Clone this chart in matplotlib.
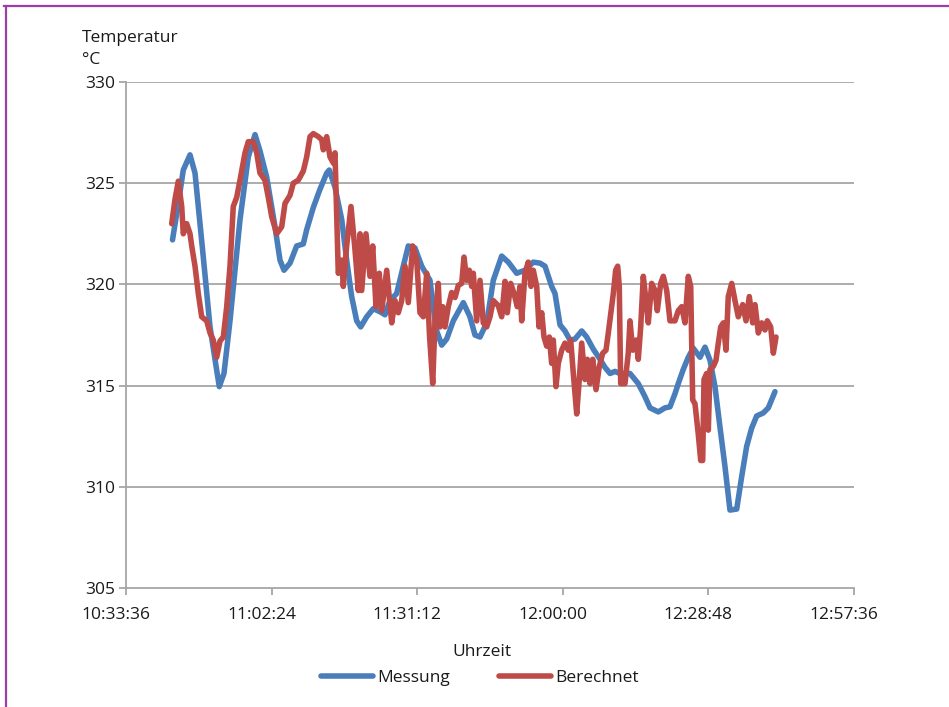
import matplotlib
matplotlib.use("Agg")
import matplotlib.pyplot as plt
from matplotlib.lines import Line2D
from matplotlib.ticker import FixedLocator, FuncFormatter
from matplotlib.transforms import ScaledTranslation

plt.rcParams['font.family'] = ['Open Sans', 'DejaVu Sans']

# Time axis in minutes after 10:00:00
messung_min = [42.8, 43.95, 44.93, 46.26, 47.25, 48.83, 50.22, 51.2, 52.05, 52.98,
               54.17, 56.15, 57.79, 59.12, 60.1, 61.43, 63.07, 64.06, 64.85, 66.04,
               67.36, 68.67, 69.34, 70.65, 71.97, 73.3, 73.81, 74.94, 76.27, 77.25,
               78.24, 79.23, 80.02, 81.21, 82.52, 83.84, 84.83, 85.82, 87.14, 88.45,
               89.44, 90.76, 92.09, 93.73, 94.92, 96.05, 97.03, 98.34, 100.32, 101.64,
               102.63, 103.62, 104.95, 106.25, 107.91, 109.22, 110.88, 112.52, 114.16, 115.49,
               116.48, 117.8, 118.46, 119.45, 120.43, 121.42, 122.41, 123.74, 124.73, 126.03,
               127.36, 128.35, 129.34, 130.32, 131.31, 133.29, 134.93, 136.26, 137.25, 138.89,
               140.21, 141.2, 142.19, 142.84, 143.83, 144.82, 145.81, 147.14, 148.13, 149.12,
               150.1, 151.09, 152.08, 153.07, 154.4, 155.38, 156.37, 157.36, 158.35, 159.66,
               160.65, 161.97]
messung_val = [322.2, 324.0, 325.65, 326.4, 325.5, 321.5, 317.9, 316.3, 314.95, 315.6,
               318.2, 323.2, 326.3, 327.4, 326.6, 325.3, 322.85, 321.2, 320.7, 321.05,
               321.9, 322.0, 322.7, 323.8, 324.7, 325.5, 325.65, 324.8, 323.2, 321.2,
               319.4, 318.2, 317.9, 318.4, 318.8, 318.65, 318.5, 319.2, 319.55, 320.9,
               321.9, 321.8, 320.9, 320.2, 317.8, 317.0, 317.3, 318.2, 319.1, 318.4,
               317.5, 317.4, 318.1, 320.2, 321.4, 321.1, 320.55, 320.7, 321.1, 321.05,
               320.9, 319.9, 319.55, 318.0, 317.7, 317.25, 317.3, 317.7, 317.4, 316.8,
               316.3, 315.9, 315.6, 315.7, 315.6, 315.6, 315.1, 314.45, 313.9, 313.7,
               313.9, 313.95, 314.6, 315.1, 315.8, 316.4, 316.85, 316.4, 316.9, 316.25,
               314.95, 312.95, 311.0, 308.85, 308.9, 310.5, 312.0, 312.9, 313.5, 313.65,
               313.9, 314.7]

berechnet_min = [42.64, 43.29, 43.95, 44.62, 44.93, 45.61, 46.26, 46.6, 47.25, 47.9,
                 48.57, 49.56, 50.22, 50.87, 51.54, 52.19, 52.85, 53.52, 54.17, 54.82,
                 55.5, 56.15, 57.14, 57.79, 58.78, 59.45, 60.1, 61.09, 61.75, 62.42,
                 63.41, 64.4, 65.05, 66.04, 66.69, 67.68, 68.67, 69.34, 70.0, 70.65,
                 71.64, 72.31, 72.63, 73.3, 73.95, 74.6, 74.94, 75.59, 76.27, 76.58,
                 77.25, 78.1, 78.9, 79.55, 79.89, 80.22, 81.07, 81.86, 82.4, 83.05,
                 83.7, 84.18, 85.17, 86.16, 86.81, 87.46, 88.13, 88.79, 89.44, 90.31,
                 91.1, 91.75, 92.41, 93.08, 93.63, 94.27, 94.72, 95.37, 95.71, 96.24,
                 96.7, 97.35, 98.02, 98.68, 99.33, 100.0, 100.46, 100.99, 101.5, 101.98,
                 102.3, 102.97, 103.62, 104.27, 104.95, 105.6, 106.25, 107.24, 107.91, 108.57,
                 109.02, 109.69, 110.35, 111.0, 111.53, 111.87, 112.52, 113.17, 113.71, 114.16,
                 114.84, 115.29, 115.83, 116.28, 116.81, 117.33, 117.8, 118.12, 118.65, 119.11,
                 119.78, 120.43, 121.09, 121.56, 122.08, 122.75, 123.26, 123.74, 124.39, 124.85,
                 125.38, 125.91, 126.57, 127.22, 127.89, 128.54, 129.0, 129.67, 129.99, 130.46,
                 130.86, 131.17, 131.45, 132.3, 132.95, 133.29, 133.83, 134.48, 134.93, 135.41,
                 135.92, 136.46, 136.91, 137.58, 138.24, 138.69, 139.36, 139.88, 140.55, 141.2,
                 142.19, 142.84, 143.52, 144.17, 144.82, 145.3, 145.69, 146.15, 146.8, 147.28,
                 147.67, 147.93, 148.46, 148.78, 149.12, 149.77, 150.3, 150.76, 151.23, 151.75,
                 152.28, 152.73, 153.41, 154.06, 154.71, 155.58, 156.24, 156.89, 157.56, 158.02,
                 158.67, 159.34, 159.99, 160.45, 161.12, 161.64, 162.17]
berechnet_val = [323.0, 324.2, 325.1, 323.85, 322.5, 323.0, 322.5, 321.9, 320.9, 319.55,
                 318.4, 318.2, 317.6, 317.25, 316.4, 317.2, 317.4, 318.9, 320.9, 323.85,
                 324.3, 325.15, 326.5, 327.05, 327.05, 326.5, 325.5, 325.15, 324.3, 323.35,
                 322.5, 322.85, 324.0, 324.4, 325.0, 325.15, 325.6, 326.3, 327.3, 327.45,
                 327.3, 327.15, 326.65, 327.3, 326.3, 326.0, 326.5, 320.55, 321.2, 319.9,
                 321.9, 323.85, 321.7, 319.7, 322.5, 319.7, 322.5, 320.4, 321.9, 318.9,
                 320.55, 318.7, 320.7, 318.1, 319.2, 318.6, 319.2, 320.9, 319.1, 321.9,
                 321.2, 318.6, 318.4, 320.55, 317.5, 315.1, 318.2, 320.05, 317.9, 318.9,
                 317.9, 318.9, 319.6, 319.35, 319.95, 320.05, 321.35, 320.2, 320.7, 319.9,
                 320.55, 318.2, 320.2, 318.1, 317.9, 318.4, 319.2, 318.95, 318.4, 320.15,
                 318.6, 320.05, 319.55, 318.9, 319.9, 318.2, 320.55, 321.1, 319.9, 320.7,
                 319.9, 317.9, 318.6, 317.4, 316.95, 317.4, 316.1, 317.25, 314.95, 316.1,
                 316.75, 317.1, 316.75, 317.25, 315.6, 313.6, 315.3, 317.1, 315.3, 316.3,
                 315.1, 316.3, 314.8, 315.95, 316.6, 316.75, 317.6, 318.9, 319.55, 320.7,
                 320.9, 319.9, 315.1, 315.1, 316.6, 318.2, 316.75, 317.25, 316.3, 317.9,
                 320.4, 319.2, 318.1, 320.05, 319.7, 318.7, 320.05, 320.4, 319.7, 318.2,
                 318.2, 318.7, 318.9, 318.1, 320.4, 319.9, 314.3, 314.1, 312.6, 311.3,
                 311.3, 315.3, 315.6, 312.8, 315.8, 315.95, 316.25, 317.1, 317.9, 318.1,
                 316.75, 319.4, 320.05, 319.2, 318.4, 319.0, 318.2, 319.4, 318.1, 319.0,
                 317.6, 318.1, 317.75, 318.2, 317.9, 316.6, 317.4]

x_ticks = [33.6, 62.4, 91.2, 120.0, 148.8, 177.6]
y_ticks = [305, 310, 315, 320, 325, 330]

BLUE = '#4a7ebb'
RED = '#be4b48'
GRID = '#a6a6a6'
TEXT = '#1a1a1a'
FS = 12.5
LW = 4.0


def clock(m, _pos=None):
    total = int(round(m * 60)) + 10 * 3600
    h, rem = divmod(total, 3600)
    mi, s = divmod(rem, 60)
    return f"{h}:{mi:02d}:{s:02d}"


fig = plt.figure(figsize=(9.49, 7.07), dpi=100)
ax = fig.add_axes([126 / 949, 1 - 588 / 707, (854 - 126) / 949, (588 - 82) / 707])

ax.plot(messung_min, messung_val, color=BLUE, lw=LW, solid_joinstyle='round',
        solid_capstyle='round', label='Messung', zorder=3)
ax.plot(berechnet_min, berechnet_val, color=RED, lw=LW, solid_joinstyle='round',
        solid_capstyle='round', label='Berechnet', zorder=4)

ax.set_xlim(x_ticks[0], x_ticks[-1])
ax.set_ylim(y_ticks[0], y_ticks[-1])
ax.xaxis.set_major_locator(FixedLocator(x_ticks))
ax.xaxis.set_major_formatter(FuncFormatter(clock))
ax.yaxis.set_major_locator(FixedLocator(y_ticks))

for y in y_ticks[1:]:
    ax.axhline(y, color=GRID, lw=1.3, zorder=1)

for side in ('top', 'right'):
    ax.spines[side].set_visible(False)
for side in ('left', 'bottom'):
    ax.spines[side].set_color(GRID)
    ax.spines[side].set_linewidth(1.3)

ax.tick_params(axis='both', direction='out', length=5, width=1.3, color=GRID,
               labelsize=FS, labelcolor=TEXT)
ax.tick_params(axis='x', pad=9)
ax.tick_params(axis='y', pad=3)

# Time labels sit slightly left of their tick marks
shift = ScaledTranslation(-0.1, 0, fig.dpi_scale_trans)
for lab in ax.get_xticklabels():
    lab.set_transform(lab.get_transform() + shift)

fig.text(82 / 949, 1 - 38 / 707, 'Temperatur', ha='left', va='center', fontsize=FS, color=TEXT)
fig.text(82 / 949, 1 - 60 / 707, '°C', ha='left', va='center', fontsize=FS, color=TEXT)
fig.text(482 / 949, 1 - 652 / 707, 'Uhrzeit', ha='center', va='center', fontsize=FS, color=TEXT)

handles = [Line2D([], [], color=BLUE, lw=LW, solid_capstyle='round'),
           Line2D([], [], color=RED, lw=LW, solid_capstyle='round')]
fig.legend(handles, ['Messung', 'Berechnet'], loc='center', bbox_to_anchor=(480 / 949, 1 - 678 / 707),
           ncol=2, frameon=False, fontsize=FS, handlelength=3.0, handletextpad=0.25,
           columnspacing=2.8, labelcolor=TEXT)

# Purple frame lines along the top and left edges
fig.add_artist(Line2D([4 / 949, 1], [1 - 6 / 707, 1 - 6 / 707], color='#9b3fa6', lw=1.6,
                      transform=fig.transFigure))
fig.add_artist(Line2D([6 / 949, 6 / 949], [0, 1 - 6 / 707], color='#9b3fa6', lw=1.6,
                      transform=fig.transFigure))

fig.savefig('out.png', dpi=100, facecolor='white')
